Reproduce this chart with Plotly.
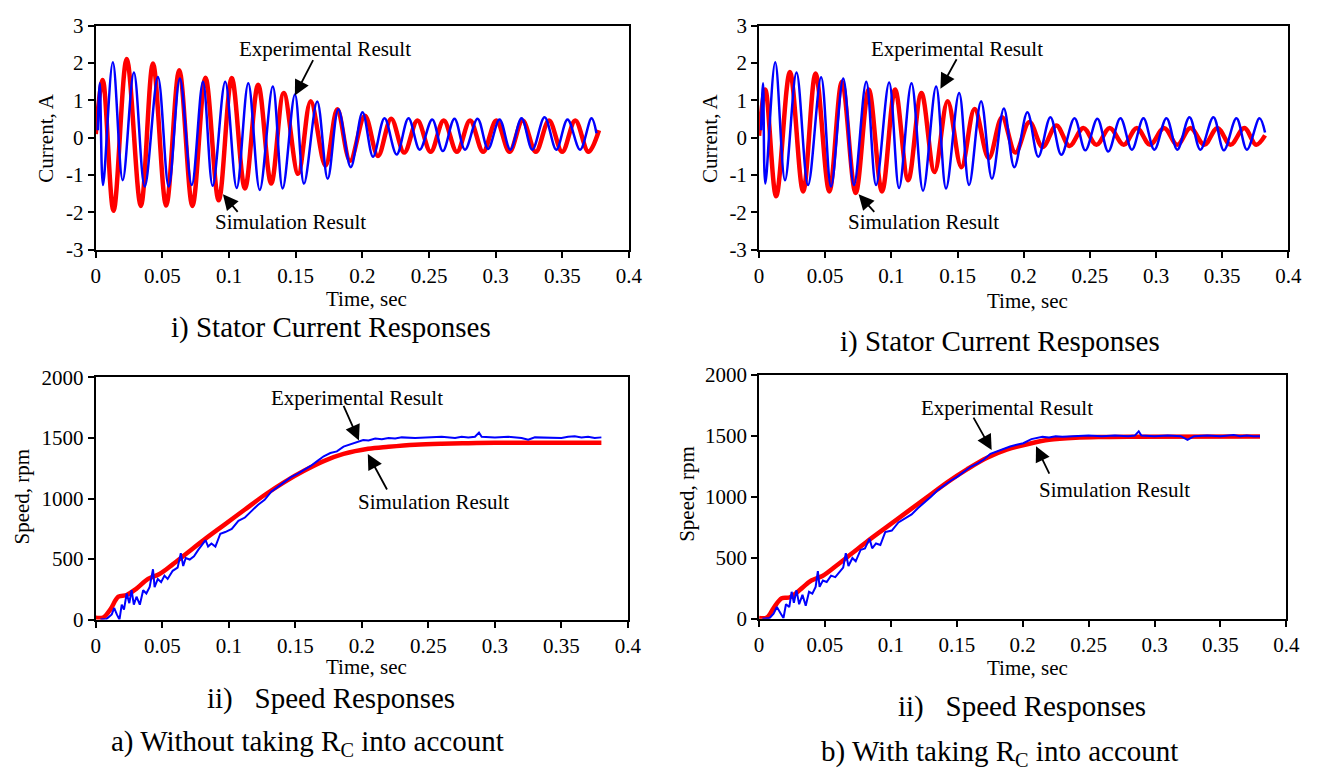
import plotly.graph_objects as go

# ---------------- data ----------------
# (a) stator current, simulation (red) - extrema
cur_a_sim_t = [0.0, 0.0052, 0.0133, 0.0232, 0.0338, 0.0429, 0.0528, 0.0626, 0.0725, 0.0823, 0.0922, 0.102,
               0.1119, 0.1218, 0.1316, 0.141, 0.1518, 0.1612, 0.1723, 0.1812, 0.1908, 0.2019, 0.2117, 0.2216,
               0.2314, 0.2413, 0.2512, 0.261, 0.2709, 0.2808, 0.2906, 0.3005, 0.3104, 0.3202, 0.3301, 0.34,
               0.3499, 0.3597, 0.3696, 0.3775]
cur_a_sim_v = [0.1, 1.55, -1.96, 2.11, -1.83, 1.99, -1.82, 1.81, -1.83, 1.61, -1.68, 1.6, -1.36, 1.42, -1.23,
               1.2, -0.97, 0.98, -0.75, 0.76, -0.62, 0.59, -0.49, 0.51, -0.4, 0.46, -0.38, 0.46, -0.38, 0.46,
               -0.38, 0.46, -0.38, 0.46, -0.38, 0.46, -0.38, 0.46, -0.38, 0.2]
# (a) stator current, experimental (blue)
cur_a_exp_t = [0.0015, 0.003, 0.0054, 0.0128, 0.0202, 0.0286, 0.0367, 0.0466, 0.0547, 0.0631, 0.072, 0.0804,
               0.0877, 0.0971, 0.1057, 0.1144, 0.123, 0.1328, 0.1402, 0.1494, 0.1562, 0.1661, 0.174, 0.182,
               0.1913, 0.2001, 0.208, 0.2166, 0.2257, 0.2346, 0.243, 0.2524, 0.2603, 0.2691, 0.277, 0.2864,
               0.2943, 0.3029, 0.311, 0.3194, 0.3275, 0.3367, 0.3455, 0.3539, 0.3633, 0.3719, 0.3756]
cur_a_exp_v = [0.2, 1.46, -1.27, 2.02, -1.14, 1.75, -1.31, 1.63, -1.31, 1.59, -1.27, 1.5, -1.29, 1.5, -1.35,
               1.46, -1.4, 1.37, -1.36, 1.16, -1.23, 0.97, -1.1, 0.76, -0.79, 0.68, -0.51, 0.52, -0.45, 0.52,
               -0.32, 0.49, -0.36, 0.51, -0.32, 0.51, -0.3, 0.49, -0.32, 0.52, -0.32, 0.55, -0.32, 0.49, -0.32,
               0.52, 0.12]
# (b) stator current, simulation (red)
cur_b_sim_t = [0.0, 0.0047, 0.0129, 0.0233, 0.0333, 0.0427, 0.0531, 0.0626, 0.073, 0.0829, 0.0929, 0.1028,
               0.1127, 0.1227, 0.1326, 0.1425, 0.1529, 0.1629, 0.1736, 0.1837, 0.1937, 0.2043, 0.2143, 0.2247,
               0.2346, 0.2451, 0.255, 0.265, 0.2756, 0.2855, 0.2955, 0.3061, 0.3161, 0.326, 0.3365, 0.3464,
               0.3563, 0.3667, 0.3757, 0.3824]
cur_b_sim_v = [0.05, 1.29, -1.57, 1.76, -1.44, 1.72, -1.44, 1.5, -1.48, 1.29, -1.44, 1.29, -1.14, 1.2, -0.92,
               0.98, -0.79, 0.77, -0.55, 0.55, -0.4, 0.42, -0.25, 0.33, -0.22, 0.26, -0.19, 0.26, -0.19, 0.26,
               -0.19, 0.26, -0.19, 0.26, -0.19, 0.26, -0.19, 0.26, -0.19, 0.06]
# (b) stator current, experimental (blue)
cur_b_exp_t = [0.0015, 0.003, 0.0047, 0.0122, 0.0196, 0.0283, 0.037, 0.0469, 0.0544, 0.0636, 0.0717, 0.081,
               0.0884, 0.0983, 0.1058, 0.1152, 0.1239, 0.1338, 0.1413, 0.1512, 0.1587, 0.1678, 0.176, 0.185,
               0.1929, 0.2028, 0.211, 0.2202, 0.2284, 0.2384, 0.2466, 0.2557, 0.2639, 0.2731, 0.2818, 0.2905,
               0.2987, 0.3079, 0.3161, 0.3253, 0.3335, 0.3434, 0.3513, 0.3608, 0.3687, 0.3782, 0.3824]
cur_b_exp_v = [0.2, 1.46, -1.23, 2.02, -1.14, 1.75, -1.27, 1.62, -1.31, 1.59, -1.27, 1.5, -1.27, 1.48, -1.35,
               1.46, -1.42, 1.37, -1.36, 1.2, -1.27, 0.98, -1.1, 0.78, -0.79, 0.68, -0.51, 0.55, -0.46, 0.52,
               -0.34, 0.51, -0.37, 0.52, -0.32, 0.52, -0.32, 0.52, -0.32, 0.55, -0.32, 0.55, -0.34, 0.52, -0.32,
               0.52, 0.14]

# (a) speed, simulation (red)
spd_a_sim_t = [0.0, 0.006, 0.011, 0.017, 0.0232, 0.0306, 0.0393, 0.0479, 0.0578, 0.0701, 0.0825, 0.0973,
               0.1121, 0.1269, 0.1417, 0.1565, 0.1713, 0.1862, 0.2047, 0.22, 0.24, 0.26, 0.28, 0.3, 0.38]
spd_a_sim_v = [15, 20, 85, 189, 203, 256, 336, 376, 456, 563, 669, 789, 909, 1029, 1136, 1229, 1309, 1368,
               1411, 1428, 1445, 1453, 1457, 1460, 1460]
# (a) speed, experimental (blue)
spd_a_exp_t = [0.0035, 0.008, 0.012, 0.0138, 0.0158, 0.0178, 0.0195, 0.0212, 0.0232, 0.0252, 0.0269, 0.0286,
               0.0306, 0.0331, 0.0356, 0.038, 0.0405, 0.043, 0.0442, 0.0466, 0.0491, 0.0516, 0.054, 0.0578,
               0.0615, 0.0639, 0.0657, 0.0676, 0.0706, 0.0738, 0.077, 0.08, 0.0825, 0.0844, 0.0869, 0.0899,
               0.0936, 0.0973, 0.1022, 0.1072, 0.1121, 0.117, 0.122, 0.1269, 0.1319, 0.1368, 0.1417, 0.1467,
               0.1516, 0.1565, 0.1615, 0.1664, 0.1713, 0.1763, 0.1812, 0.1862, 0.1911, 0.196, 0.201, 0.205,
               0.21, 0.215, 0.22, 0.225, 0.23, 0.24, 0.25, 0.26, 0.27, 0.275, 0.28, 0.285, 0.288, 0.29, 0.3,
               0.31, 0.32, 0.325, 0.33, 0.34, 0.35, 0.355, 0.36, 0.365, 0.37, 0.375, 0.38]
spd_a_exp_v = [0, 5, 43, 96, 43, 0, 123, 83, 216, 136, 243, 123, 189, 123, 243, 216, 269, 416, 269, 336, 309,
               363, 336, 403, 429, 549, 443, 509, 496, 523, 576, 616, 656, 603, 629, 603, 709, 723, 749, 816,
               843, 896, 949, 989, 1056, 1096, 1136, 1176, 1203, 1235, 1269, 1309, 1349, 1376, 1389, 1429,
               1448, 1464, 1483, 1480, 1495, 1490, 1500, 1495, 1505, 1500, 1505, 1510, 1500, 1510, 1505, 1510,
               1545, 1510, 1505, 1510, 1500, 1485, 1505, 1505, 1500, 1510, 1515, 1505, 1510, 1500, 1505]

# (b) speed, simulation (red)
spd_b_sim_t = [0.0, 0.006, 0.011, 0.0172, 0.0234, 0.0321, 0.0396, 0.0484, 0.0583, 0.0708, 0.0833, 0.0982,
               0.1131, 0.1281, 0.143, 0.158, 0.173, 0.1879, 0.2066, 0.22, 0.24, 0.26, 0.28, 0.38]
spd_b_sim_v = [5, 10, 87, 167, 175, 246, 312, 352, 431, 537, 643, 762, 881, 1000, 1119, 1225, 1318, 1384,
               1437, 1465, 1482, 1488, 1490, 1492]
# (b) speed, experimental (blue)
spd_b_exp_t = [0.0025, 0.008, 0.011, 0.0135, 0.0165, 0.0185, 0.0204, 0.0229, 0.0247, 0.0264, 0.0284, 0.0304,
               0.0329, 0.0354, 0.0379, 0.0404, 0.0429, 0.0446, 0.0459, 0.0484, 0.0513, 0.0546, 0.0578, 0.0613,
               0.0638, 0.0658, 0.0678, 0.0708, 0.0733, 0.077, 0.0803, 0.0838, 0.0858, 0.0887, 0.092, 0.0957,
               0.1007, 0.1057, 0.1107, 0.1157, 0.1206, 0.1256, 0.1306, 0.1356, 0.1406, 0.1456, 0.1505, 0.1555,
               0.1605, 0.1655, 0.1705, 0.1755, 0.1805, 0.1854, 0.1904, 0.1954, 0.2004, 0.2066, 0.21, 0.215,
               0.22, 0.225, 0.23, 0.24, 0.25, 0.26, 0.27, 0.28, 0.285, 0.288, 0.29, 0.3, 0.31, 0.32, 0.325,
               0.33, 0.34, 0.35, 0.355, 0.36, 0.365, 0.37, 0.375, 0.38]
spd_b_exp_v = [0, 5, 40, 95, 40, 5, 118, 95, 220, 130, 232, 118, 195, 105, 220, 205, 260, 390, 260, 312, 300,
               352, 340, 390, 418, 537, 431, 497, 470, 563, 576, 655, 576, 616, 603, 709, 722, 788, 820, 854,
               907, 952, 1000, 1053, 1093, 1132, 1164, 1204, 1244, 1270, 1304, 1350, 1371, 1392, 1410, 1424,
               1437, 1471, 1480, 1490, 1485, 1495, 1490, 1495, 1500, 1495, 1500, 1495, 1500, 1535, 1500, 1495,
               1500, 1495, 1465, 1495, 1500, 1495, 1500, 1505, 1495, 1500, 1495, 1495]

x_ticks = [0, 0.05, 0.1, 0.15, 0.2, 0.25, 0.3, 0.35, 0.4]
x_tick_labels = ["0", "0.05", "0.1", "0.15", "0.2", "0.25", "0.3", "0.35", "0.4"]
cur_ticks = [-3, -2, -1, 0, 1, 2, 3]
cur_tick_labels = ["-3", "-2", "-1", "0", "1", "2", "3"]
spd_ticks = [0, 500, 1000, 1500, 2000]
spd_tick_labels = ["0", "500", "1000", "1500", "2000"]

# ---------------- figure ----------------
# the page body keeps its default 8 px margin, so the figure is 16 px smaller
OFF = 8
W, H = 1333 - 2 * OFF, 782 - 2 * OFF
FONT = "Liberation Serif, Times New Roman, serif"
RED, BLUE = "#FF0000", "#0000FF"


def px(x):
    return (x - OFF) / W


def py(y):
    return 1 - (y - OFF) / H


fig = go.Figure()

panels = [
    ("x", "y", cur_a_sim_t, cur_a_sim_v, cur_a_exp_t, cur_a_exp_v, "spline", 2.5),
    ("x2", "y2", cur_b_sim_t, cur_b_sim_v, cur_b_exp_t, cur_b_exp_v, "spline", 2.5),
    ("x3", "y3", spd_a_sim_t, spd_a_sim_v, spd_a_exp_t, spd_a_exp_v, "linear", 2),
    ("x4", "y4", spd_b_sim_t, spd_b_sim_v, spd_b_exp_t, spd_b_exp_v, "linear", 2),
]
for xa, ya, st, sv, et, ev, shape, bw in panels:
    fig.add_trace(go.Scatter(x=st, y=sv, xaxis=xa, yaxis=ya, mode="lines",
                             line=dict(color=RED, width=4.5, shape="spline", smoothing=1.0),
                             name="Simulation Result", showlegend=False))
    fig.add_trace(go.Scatter(x=et, y=ev, xaxis=xa, yaxis=ya, mode="lines",
                             line=dict(color=BLUE, width=bw, shape=shape, smoothing=1.0),
                             name="Experimental Result", showlegend=False))

axis_common = dict(showline=True, linecolor="black", linewidth=2, mirror=True, ticks="outside",
                   ticklen=6, tickwidth=1.5, tickcolor="black", showgrid=False, zeroline=False,
                   tickfont=dict(family=FONT, size=21, color="black"))

doms = {
    "1": ([px(92), px(633)], [py(245), py(14)]),
    "2": ([px(765), px(1302)], [py(245), py(14)]),
    "3": ([px(92), px(632)], [py(627), py(377)]),
    "4": ([px(765), px(1300)], [py(626), py(374)]),
}
layout_axes = {}
for k, (dx, dy) in doms.items():
    sfx = "" if k == "1" else k
    layout_axes["xaxis" + sfx] = dict(axis_common, domain=dx, range=[0, 0.4], tickvals=x_ticks,
                                      ticktext=x_tick_labels, anchor="y" + sfx)
    if k in ("1", "2"):
        layout_axes["yaxis" + sfx] = dict(axis_common, domain=dy, range=[-3, 3], tickvals=cur_ticks,
                                          ticktext=cur_tick_labels, anchor="x" + sfx)
    else:
        layout_axes["yaxis" + sfx] = dict(axis_common, domain=dy, range=[0, 2000], tickvals=spd_ticks,
                                          ticktext=spd_tick_labels, anchor="x" + sfx)

annotations = []


def text(x, y, s, size=21, angle=0):
    annotations.append(dict(x=px(x), y=py(y), xref="paper", yref="paper", text=s, showarrow=False,
                            textangle=angle, xanchor="center", yanchor="middle",
                            font=dict(family=FONT, size=size, color="black")))


def arrow(hx, hy, tx, ty):
    annotations.append(dict(x=px(hx), y=py(hy), xref="paper", yref="paper", text="", showarrow=True,
                            ax=tx - hx, ay=ty - hy, arrowhead=2, arrowsize=1.7, arrowwidth=1.8,
                            arrowcolor="black"))


# axis titles
text(42, 130, "Current, A", angle=-90)
text(715, 130, "Current, A", angle=-90)
text(17, 500, "Speed, rpm", angle=-90)
text(692, 497, "Speed, rpm", angle=-90)
text(367, 296, "Time, sec")
text(1037, 298, "Time, sec")
text(367, 676, "Time, sec")
text(1037, 677, "Time, sec")

# panel captions
text(331, 325, "i) Stator Current Responses", size=29)
text(1009, 340, "i) Stator Current Responses", size=29)
text(331, 708, "ii)\u00a0\u00a0\u00a0Speed Responses", size=29)
text(1032, 717, "ii)\u00a0\u00a0\u00a0Speed Responses", size=29)
text(307, 754, "a) Without taking R<sub>C</sub> into account", size=29)
text(1009, 765, "b) With taking R<sub>C</sub> into account", size=29)

# in-plot labels and arrows
text(325, 38, "Experimental Result")
arrow(294, 86, 313, 49)
text(290, 217, "Simulation Result")
arrow(221, 188, 237, 207)
text(966, 38, "Experimental Result")
arrow(949, 79, 966, 48)
text(932, 217, "Simulation Result")
arrow(866, 188, 883, 207)
text(357, 398, "Experimental Result")
arrow(359, 442, 343, 406)
text(435, 506, "Simulation Result")
arrow(368, 456, 388, 493)
text(1017, 409, "Experimental Result")
arrow(1001, 452, 982, 418)
text(1126, 493, "Simulation Result")
arrow(1046, 448, 1060, 477)

fig.update_layout(width=W, height=H, autosize=False, margin=dict(l=0, r=0, t=0, b=0),
                  paper_bgcolor="white", plot_bgcolor="white", showlegend=False,
                  annotations=annotations, **layout_axes)

fig.write_html("out.html")
